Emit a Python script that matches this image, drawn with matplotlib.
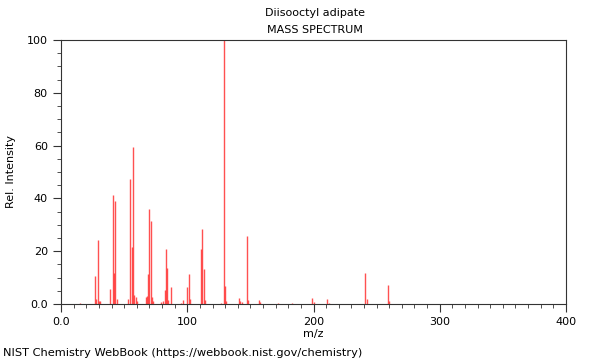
import matplotlib.pyplot as plt
from matplotlib.ticker import MultipleLocator, FixedFormatter, FixedLocator

# m/z and relative intensity
mz = [15, 27, 28, 29, 30, 31, 39, 41, 42, 43, 44, 53, 55, 56, 57, 58, 59, 60,
      67, 68, 69, 70, 71, 72, 73, 79, 81, 82, 83, 84, 85, 87, 95, 97, 100, 101,
      102, 111, 112, 113, 114, 127, 129, 130, 131, 141, 142, 143, 147, 148,
      157, 158, 172, 183, 199, 200, 211, 212, 241, 242, 259, 260]
intensity = [0.5, 10.7, 2.0, 24.2, 1.2, 1.0, 5.8, 41.2, 11.7, 39.0, 2.0, 1.8, 47.5,
             21.7, 59.3, 3.3, 2.8, 1.0, 2.5, 3.0, 11.4, 35.9, 31.6, 2.5, 1.0,
             0.8, 1.3, 5.3, 20.7, 13.6, 1.5, 6.3, 0.5, 1.5, 6.3, 11.4, 2.0, 20.9,
             28.3, 13.1, 1.5, 0.5, 100.0, 7.0, 1.0, 2.4, 1.0, 0.8, 25.8, 1.5,
             1.5, 0.8, 0.3, 0.3, 2.1, 0.8, 1.9, 0.5, 11.6, 2.0, 7.2, 1.2]

xticks = [0, 100, 200, 300, 400]
xtick_labels = ['0.0', '100', '200', '300', '400']
yticks = [0, 20, 40, 60, 80, 100]
ytick_labels = ['0.0', '20', '40', '60', '80', '100']

fig = plt.figure(figsize=(6, 3.6), dpi=100)
ax = fig.add_axes([0.1017, 0.1556, 0.8416, 0.7334])

ax.vlines(mz, 0, intensity, color='#ff3333', linewidth=1.0, alpha=0.85)

ax.set_xlim(0, 400)
ax.set_ylim(0, 100)
ax.xaxis.set_major_locator(FixedLocator(xticks))
ax.xaxis.set_major_formatter(FixedFormatter(xtick_labels))
ax.yaxis.set_major_locator(FixedLocator(yticks))
ax.yaxis.set_major_formatter(FixedFormatter(ytick_labels))
ax.xaxis.set_minor_locator(MultipleLocator(10))
ax.yaxis.set_minor_locator(MultipleLocator(5))
ax.tick_params(which='major', length=6, labelsize=8, color='#333333')
ax.tick_params(which='minor', length=3, color='#333333')
for s in ax.spines.values():
    s.set_color('#333333')
    s.set_linewidth(0.8)

ax.set_xlabel('m/z', fontsize=8, labelpad=1)
ax.set_ylabel('Rel. Intensity', fontsize=8, labelpad=8)

fig.text(0.525, 0.963, 'Diisooctyl adipate', ha='center', va='center', fontsize=8)
fig.text(0.525, 0.916, 'MASS SPECTRUM', ha='center', va='center', fontsize=8)
fig.text(0.005, 0.02, 'NIST Chemistry WebBook (https://webbook.nist.gov/chemistry)',
         ha='left', va='center', fontsize=8.2)

fig.savefig('out.png', dpi=100)
plt.close()
